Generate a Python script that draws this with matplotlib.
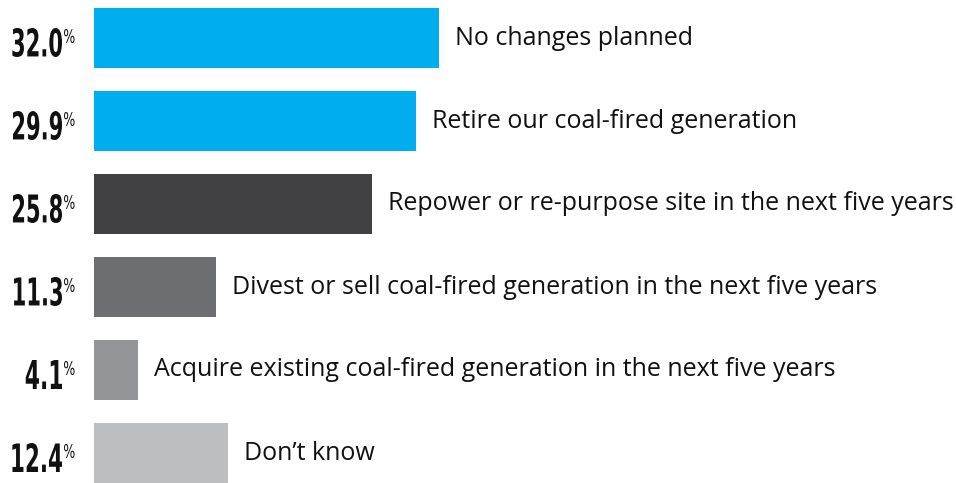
import numpy as np
import matplotlib
matplotlib.use('Agg')
import matplotlib.pyplot as plt
from matplotlib.textpath import TextPath
from matplotlib.font_manager import FontProperties
from matplotlib.patches import PathPatch
from matplotlib.transforms import Affine2D, IdentityTransform

# survey answers, top to bottom
answers = ['No changes planned',
           'Retire our coal-fired generation',
           'Repower or re-purpose site in the next five years',
           'Divest or sell coal-fired generation in the next five years',
           'Acquire existing coal-fired generation in the next five years',
           'Don\u2019t know']
shares = [32.0, 29.9, 25.8, 11.3, 4.1, 12.4]
bar_colors = ['#00AEEF', '#00AEEF', '#414042', '#6D6E71', '#939598', '#BCBEC0']

W, H = 956, 483
fig = plt.figure(figsize=(W / 100, H / 100), dpi=100)
ax = fig.add_axes([0, 0, 1, 1])

px_per_unit = 10.78
x0 = 94
step = 83
ax.set_xlim(-x0 / px_per_unit, (W - x0) / px_per_unit)
ax.set_ylim((H - 38) / step, -38 / step)
ax.axis('off')

y = np.arange(len(shares))
ax.barh(y, shares, height=60 / step, color=bar_colors, left=0)


def narrow_text(s, anchor, height_px, squeeze, weight, align_right, top=False):
    # condensed look: draw the glyph outline and squash it sideways
    tp = TextPath((0, 0), s, size=1, prop=FontProperties(family='DejaVu Sans', weight=weight))
    bb = tp.get_extents()
    sy = height_px / bb.height
    sx = sy * squeeze
    ox = bb.x1 if align_right else bb.x0
    oy = bb.y1 if top else bb.y0
    tr = Affine2D().translate(-ox, -oy).scale(sx, sy).translate(*anchor)
    p = PathPatch(tr.transform_path(tp), facecolor='#111111', edgecolor='none',
                  transform=IdentityTransform())
    fig.add_artist(p)


for i, (v, lab) in enumerate(zip(shares, answers)):
    ax.annotate(lab, xy=(v, i), xytext=(11.5, 0), textcoords='offset points',
                ha='left', va='center', fontsize=18, family='Open Sans',
                color='#111111')
    zx, cy = ax.transData.transform((0, i))
    narrow_text('%.1f' % v, (zx - 32, cy - 19), 29, 0.55, 'bold', True)
    narrow_text('%', (zx - 30, cy + 9), 14, 0.68, 'normal', False, top=True)

fig.savefig('out.png', dpi=100)
